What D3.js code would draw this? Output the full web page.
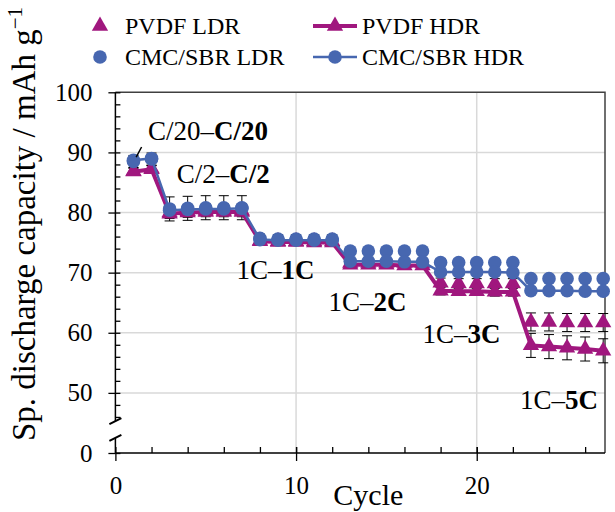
<!DOCTYPE html>
<html>
<head>
<meta charset="utf-8">
<script src="https://cdn.jsdelivr.net/npm/d3@7"></script>
<style>
  body { margin: 0; background: #fff; }
  svg text { font-family: "Liberation Serif", "Times New Roman", serif; fill: #000; }
</style>
</head>
<body>
<div id="chart"></div>
<script>
// cycle numbers
const cycles = d3.range(1, 28)

// discharge capacity, mAh g-1
const pvdfLdr = [86.9, 87.3, 80.0, 80.2, 80.3, 80.3, 80.3, 75.3, 75.2, 75.2, 75.2, 75.2,
  71.6, 71.6, 71.6, 71.6, 71.6, 68.3, 68.2, 68.2, 68.2, 68.2, 61.8, 61.8, 61.7, 61.7, 61.7]
const pvdfHdr = [86.8, 87.2, 79.8, 80.0, 80.1, 80.1, 80.1, 75.2, 75.1, 75.1, 75.0, 75.0,
  71.3, 71.3, 71.3, 71.2, 71.2, 67.0, 66.9, 66.9, 66.8, 66.8, 57.9, 57.7, 57.5, 57.3, 57.0]
const cmcLdr = [88.5, 88.9, 80.6, 80.7, 80.8, 80.8, 80.8, 75.7, 75.6, 75.6, 75.6, 75.6,
  73.6, 73.6, 73.6, 73.6, 73.6, 71.7, 71.7, 71.7, 71.7, 71.7, 69.0, 69.0, 69.0, 69.0, 69.0]
const cmcHdr = [88.7, 89.0, 80.4, 80.5, 80.6, 80.6, 80.7, 75.5, 75.4, 75.4, 75.4, 75.4,
  71.9, 71.9, 71.9, 71.8, 71.8, 70.1, 70.1, 70.1, 70.1, 70.0, 67.0, 67.0, 67.0, 66.9, 66.9]

// standard deviations
const pvdfLdrErr = [0.5, 0.5, 0.6, 0.6, 0.6, 0.6, 0.6, 0.5, 0.5, 0.5, 0.5, 0.5,
  0.5, 0.5, 0.5, 0.5, 0.5, 0.8, 0.8, 0.8, 0.8, 0.8, 1.5, 1.5, 1.5, 1.5, 1.5]
const pvdfHdrErr = [0.6, 0.6, 0.8, 0.8, 0.8, 0.8, 0.8, 0.6, 0.6, 0.6, 0.6, 0.6,
  0.6, 0.6, 0.6, 0.6, 0.6, 0.7, 0.7, 0.7, 0.7, 0.7, 2.0, 2.0, 2.0, 2.0, 2.0]
const cmcLdrErr = [1.0, 1.0, 2.0, 2.0, 2.0, 2.0, 2.0, 0.7, 0.7, 0.7, 0.7, 0.7,
  0.5, 0.5, 0.5, 0.5, 0.5, 0.6, 0.6, 0.6, 0.6, 0.6, 0.5, 0.5, 0.5, 0.5, 0.5]
const cmcHdrErr = [0.6, 0.6, 0.8, 0.8, 0.8, 0.8, 0.8, 0.6, 0.6, 0.6, 0.6, 0.6,
  0.5, 0.5, 0.5, 0.5, 0.5, 0.5, 0.5, 0.5, 0.5, 0.5, 0.5, 0.5, 0.5, 0.5, 0.5]

// x and y ticks; the y axis is broken, its lowest tick is shown as 0
const xTicks = [0, 10, 20]
const xMinor = d3.range(2, 27, 2)
const yTicks = [40, 50, 60, 70, 80, 90, 100]
const yMinor = [46, 48, 52, 54, 56, 58, 62, 64, 66, 68, 72, 74, 76, 78, 82, 84, 86, 88, 92, 94, 96, 98]

// rate labels (discharge part drawn bold)
const rateLabels = [
  { a: 'C/20–', b: 'C/20', cycle: 1.8, value: 92.0 },
  { a: 'C/2–', b: 'C/2', cycle: 3.4, value: 84.9 },
  { a: '1C–', b: '1C', cycle: 6.7, value: 69.0 },
  { a: '1C–', b: '2C', cycle: 11.8, value: 63.7 },
  { a: '1C–', b: '3C', cycle: 17.0, value: 58.3 },
  { a: '1C–', b: '5C', cycle: 22.4, value: 47.4 }
]

const series = [
  { name: 'PVDF LDR', values: pvdfLdr, err: pvdfLdrErr, color: '#a0177e', marker: 'triangle', line: false },
  { name: 'PVDF HDR', values: pvdfHdr, err: pvdfHdrErr, color: '#a0177e', marker: 'triangle', line: true },
  { name: 'CMC/SBR LDR', values: cmcLdr, err: cmcLdrErr, color: '#4767b0', marker: 'circle', line: false },
  { name: 'CMC/SBR HDR', values: cmcHdr, err: cmcHdrErr, color: '#4767b0', marker: 'circle', line: true }
]

const width = 615
const height = 512
const margin = { top: 92.3, right: 10, bottom: 59, left: 115.4 }

const svg = d3.select('#chart').append('svg')
  .attr('width', width)
  .attr('height', height)

const x = d3.scaleLinear().domain([0, 27.1]).range([margin.left, width - margin.right])
const y = d3.scaleLinear().domain([40, 100]).range([height - margin.bottom, margin.top])

// grid
svg.append('g').selectAll('line')
  .data(yTicks.filter(d => d > 40 && d < 100))
  .enter().append('line')
  .attr('x1', x(0)).attr('x2', x(27.1))
  .attr('y1', d => y(d)).attr('y2', d => y(d))
  .attr('stroke', '#d9d9d9').attr('stroke-width', 1.5)
svg.append('g').selectAll('line')
  .data(xTicks.filter(d => d > 0))
  .enter().append('line')
  .attr('x1', d => x(d)).attr('x2', d => x(d))
  .attr('y1', y(40)).attr('y2', y(100))
  .attr('stroke', '#d9d9d9').attr('stroke-width', 1.5)

// frame on top and right
svg.append('path')
  .attr('d', `M${x(0)},${y(100)}H${x(27.1)}V${y(40)}`)
  .attr('fill', 'none').attr('stroke', '#404040').attr('stroke-width', 1.5)

// y axis: outer part of major ticks with labels, inner part of all ticks
const yAxis = svg.append('g')
  .attr('transform', `translate(${x(0)},0)`)
  .call(d3.axisLeft(y).tickValues(yTicks).tickSize(7).tickPadding(16)
    .tickFormat(d => d === 40 ? '0' : d))
yAxis.select('.domain').remove()
yAxis.selectAll('text').style('font-size', '25px')
svg.append('g')
  .attr('transform', `translate(${x(0)},0)`)
  .call(d3.axisLeft(y).tickValues(yTicks.concat(yMinor)).tickSize(-5).tickFormat(''))
  .select('.domain').remove()

// x axis
const xAxis = svg.append('g')
  .attr('transform', `translate(0,${y(40)})`)
  .call(d3.axisBottom(x).tickValues(xTicks).tickSize(8).tickPadding(15))
xAxis.select('.domain').remove()
xAxis.selectAll('text').style('font-size', '25px')
svg.append('g')
  .attr('transform', `translate(0,${y(40)})`)
  .call(d3.axisBottom(x).tickValues(xTicks.concat(xMinor)).tickSize(-6).tickFormat(''))
  .select('.domain').remove()

svg.selectAll('.tick line').attr('stroke', '#000').attr('stroke-width', 1.3)

// axis lines
svg.append('line')
  .attr('x1', x(0)).attr('x2', x(0)).attr('y1', y(100)).attr('y2', y(40))
  .attr('stroke', '#000').attr('stroke-width', 1.5)
svg.append('line')
  .attr('x1', x(0)).attr('x2', x(27.1)).attr('y1', y(40)).attr('y2', y(40))
  .attr('stroke', '#000').attr('stroke-width', 1.5)

// break on the y axis
const breakTop = y(45.3)
const breakBottom = y(42.5)
svg.append('path')
  .attr('d', `M${x(0) - 7},${breakTop + 3}L${x(0) + 7},${breakTop - 3}L${x(0) + 7},${breakBottom - 3}L${x(0) - 7},${breakBottom + 3}Z`)
  .attr('fill', '#fff')
svg.append('g').selectAll('line')
  .data([breakTop, breakBottom])
  .enter().append('line')
  .attr('x1', x(0) - 6).attr('x2', x(0) + 6)
  .attr('y1', d => d + 3).attr('y2', d => d - 3)
  .attr('stroke', '#000').attr('stroke-width', 2)

// axis titles
svg.append('text')
  .attr('x', x(14)).attr('y', 505)
  .attr('text-anchor', 'middle')
  .style('font-size', '30px')
  .text('Cycle')

const yTitle = svg.append('text')
  .attr('transform', 'translate(35,224) rotate(-90)')
  .attr('text-anchor', 'middle')
  .style('font-size', '33px')
yTitle.append('tspan').text('Sp. discharge capacity / mAh g')
yTitle.append('tspan').attr('dy', -13).style('font-size', '21px').text('−1')

// series
const triangle = d3.symbol().type(d3.symbolTriangle).size(115)
const circle = d3.symbol().type(d3.symbolCircle).size(145)

const line = d3.line()
  .x((d, i) => x(cycles[i]))
  .y(d => y(d))

// error bars go under every marker
series.forEach(s => {
  const eb = svg.append('g')
    .attr('stroke', '#000')
    .attr('stroke-width', 1)
    .selectAll('g')
    .data(s.values)
    .enter().append('g')
  eb.append('line')
    .attr('x1', (d, i) => x(cycles[i])).attr('x2', (d, i) => x(cycles[i]))
    .attr('y1', (d, i) => y(d - s.err[i])).attr('y2', (d, i) => y(d + s.err[i]))
  eb.append('line')
    .attr('x1', (d, i) => x(cycles[i]) - 5).attr('x2', (d, i) => x(cycles[i]) + 5)
    .attr('y1', (d, i) => y(d - s.err[i])).attr('y2', (d, i) => y(d - s.err[i]))
  eb.append('line')
    .attr('x1', (d, i) => x(cycles[i]) - 5).attr('x2', (d, i) => x(cycles[i]) + 5)
    .attr('y1', (d, i) => y(d + s.err[i])).attr('y2', (d, i) => y(d + s.err[i]))
})

series.forEach(s => {
  const g = svg.append('g')
  if (s.line) {
    g.append('path')
      .datum(s.values)
      .attr('d', line)
      .attr('fill', 'none')
      .attr('stroke', s.color)
      .attr('stroke-width', s.marker === 'triangle' ? 4 : 2.5)
  }
  g.selectAll('path.marker')
    .data(s.values)
    .enter().append('path')
    .attr('class', 'marker')
    .attr('d', s.marker === 'triangle' ? triangle : circle)
    .attr('transform', (d, i) => `translate(${x(cycles[i])},${y(d)})`)
    .attr('fill', s.color)
})

// rate labels
rateLabels.forEach(r => {
  const t = svg.append('text')
    .attr('x', x(r.cycle)).attr('y', y(r.value))
    .style('font-size', '27px')
  t.append('tspan').text(r.a)
  t.append('tspan').style('font-weight', 'bold').text(r.b)
})
svg.append('line')
  .attr('x1', x(1.15)).attr('y1', y(89.2))
  .attr('x2', x(1.45)).attr('y2', y(90.9))
  .attr('stroke', '#000').attr('stroke-width', 1.5)

// legend
const legend = svg.append('g')
series.forEach((s, i) => {
  const col = i % 2
  const row = Math.floor(i / 2)
  const lg = legend.append('g')
    .attr('transform', `translate(${col === 0 ? 100 : 335},${row === 0 ? 26 : 57})`)
  if (s.line) {
    lg.append('line')
      .attr('x1', -22).attr('x2', 22)
      .attr('stroke', s.color)
      .attr('stroke-width', s.marker === 'triangle' ? 4 : 2.5)
  }
  lg.append('path')
    .attr('d', s.marker === 'triangle' ? triangle : circle)
    .attr('fill', s.color)
  lg.append('text')
    .attr('x', col === 0 ? 25 : 27)
    .attr('y', 8)
    .style('font-size', '24px')
    .text(s.name)
})
</script>
</body>
</html>
